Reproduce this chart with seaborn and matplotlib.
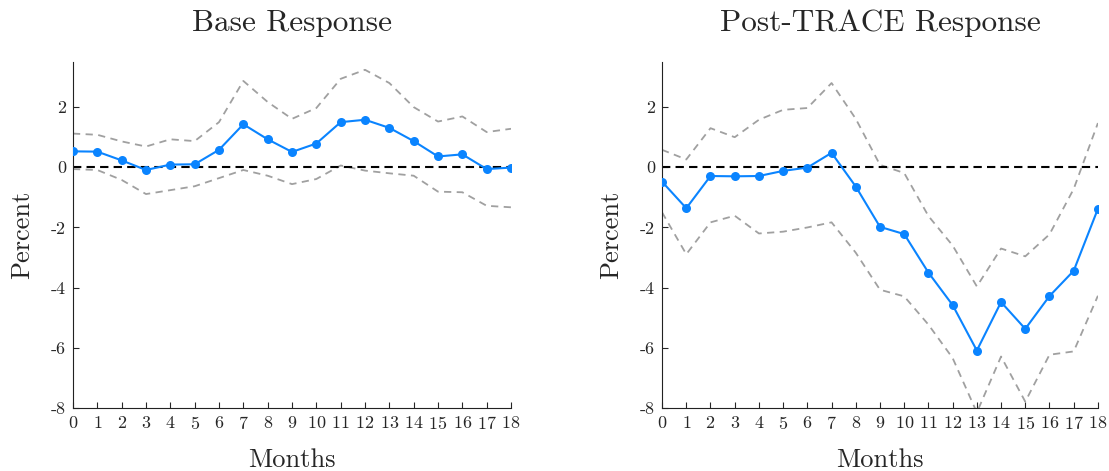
import numpy as np
import pandas as pd
import seaborn as sns
import matplotlib.pyplot as plt

# months 0..18
months = list(range(19))

# Base Response
base_irf = [0.53, 0.52, 0.23, -0.09, 0.09, 0.10, 0.58, 1.43, 0.93, 0.51,
            0.79, 1.50, 1.58, 1.31, 0.87, 0.36, 0.43, -0.06, -0.01]
base_upper = [1.12, 1.08, 0.86, 0.69, 0.93, 0.87, 1.50, 2.87, 2.17, 1.61,
              1.97, 2.94, 3.24, 2.80, 2.00, 1.52, 1.69, 1.17, 1.28]
base_lower = [-0.06, -0.09, -0.42, -0.89, -0.76, -0.63, -0.36, -0.09, -0.28, -0.56,
              -0.39, 0.06, -0.11, -0.20, -0.28, -0.81, -0.83, -1.28, -1.33]

# Post-TRACE Response
post_irf = [-0.48, -1.36, -0.29, -0.30, -0.29, -0.12, -0.01, 0.48, -0.64, -1.98,
            -2.22, -3.50, -4.58, -6.09, -4.48, -5.37, -4.28, -3.44, -1.38]
post_upper = [0.58, 0.26, 1.30, 1.00, 1.58, 1.91, 1.97, 2.80, 1.61, 0.08,
              -0.19, -1.62, -2.60, -3.96, -2.70, -2.96, -2.23, -0.72, 1.47]
post_lower = [-1.50, -2.89, -1.83, -1.61, -2.20, -2.14, -2.00, -1.83, -2.84, -4.07,
              -4.29, -5.23, -6.34, -8.15, -6.29, -7.79, -6.23, -6.12, -4.27]

titles = ['Base Response', 'Post-TRACE Response']
yticks = [-8, -6, -4, -2, 0, 2]

sns.set_style('ticks')
plt.rcParams['font.family'] = ['cmr10', 'DejaVu Serif']
plt.rcParams['mathtext.fontset'] = 'cm'
plt.rcParams['axes.unicode_minus'] = False
plt.rcParams['axes.formatter.use_mathtext'] = True

blue = '#0a84ff'
grey = '#a0a0a0'

fig = plt.figure(figsize=(11.09, 4.71), dpi=100)
ax1 = fig.add_axes([0.0658, 0.1338, 0.395, 0.7346])
ax2 = fig.add_axes([0.597, 0.1338, 0.393, 0.7346])

panels = [(ax1, base_irf, base_upper, base_lower),
          (ax2, post_irf, post_upper, post_lower)]

for i, (ax, irf, up, lo) in enumerate(panels):
    df = pd.DataFrame({'month': months, 'irf': irf, 'upper': up, 'lower': lo})
    ax.axhline(0, color='black', ls=(0, (4, 2.5)), lw=1.5, zorder=2)
    sns.lineplot(data=df, x='month', y='upper', ax=ax, color=grey,
                 ls=(0, (4, 3)), lw=1.3, zorder=1)
    sns.lineplot(data=df, x='month', y='lower', ax=ax, color=grey,
                 ls=(0, (4, 3)), lw=1.3, zorder=1)
    sns.lineplot(data=df, x='month', y='irf', ax=ax, color=blue, lw=1.5,
                 marker='o', markersize=6.5, markeredgewidth=0, zorder=3)
    ax.set_xlim(0, 18)
    ax.set_ylim(-8, 3.5)
    ax.set_xticks(months)
    ax.set_yticks(yticks)
    ax.set_yticklabels([str(t) for t in yticks])
    ax.tick_params(direction='in', length=4, width=0.8, labelsize=13, pad=5)
    ax.set_title(titles[i], fontsize=22.5, pad=22)
    ax.set_xlabel('Months', fontsize=19, labelpad=12)
    ax.set_ylabel('Percent', fontsize=19, labelpad=12)
    sns.despine(ax=ax)
    for s in ['left', 'bottom']:
        ax.spines[s].set_linewidth(0.8)
        ax.spines[s].set_color('#222222')

fig.savefig('out.png', dpi=100)
